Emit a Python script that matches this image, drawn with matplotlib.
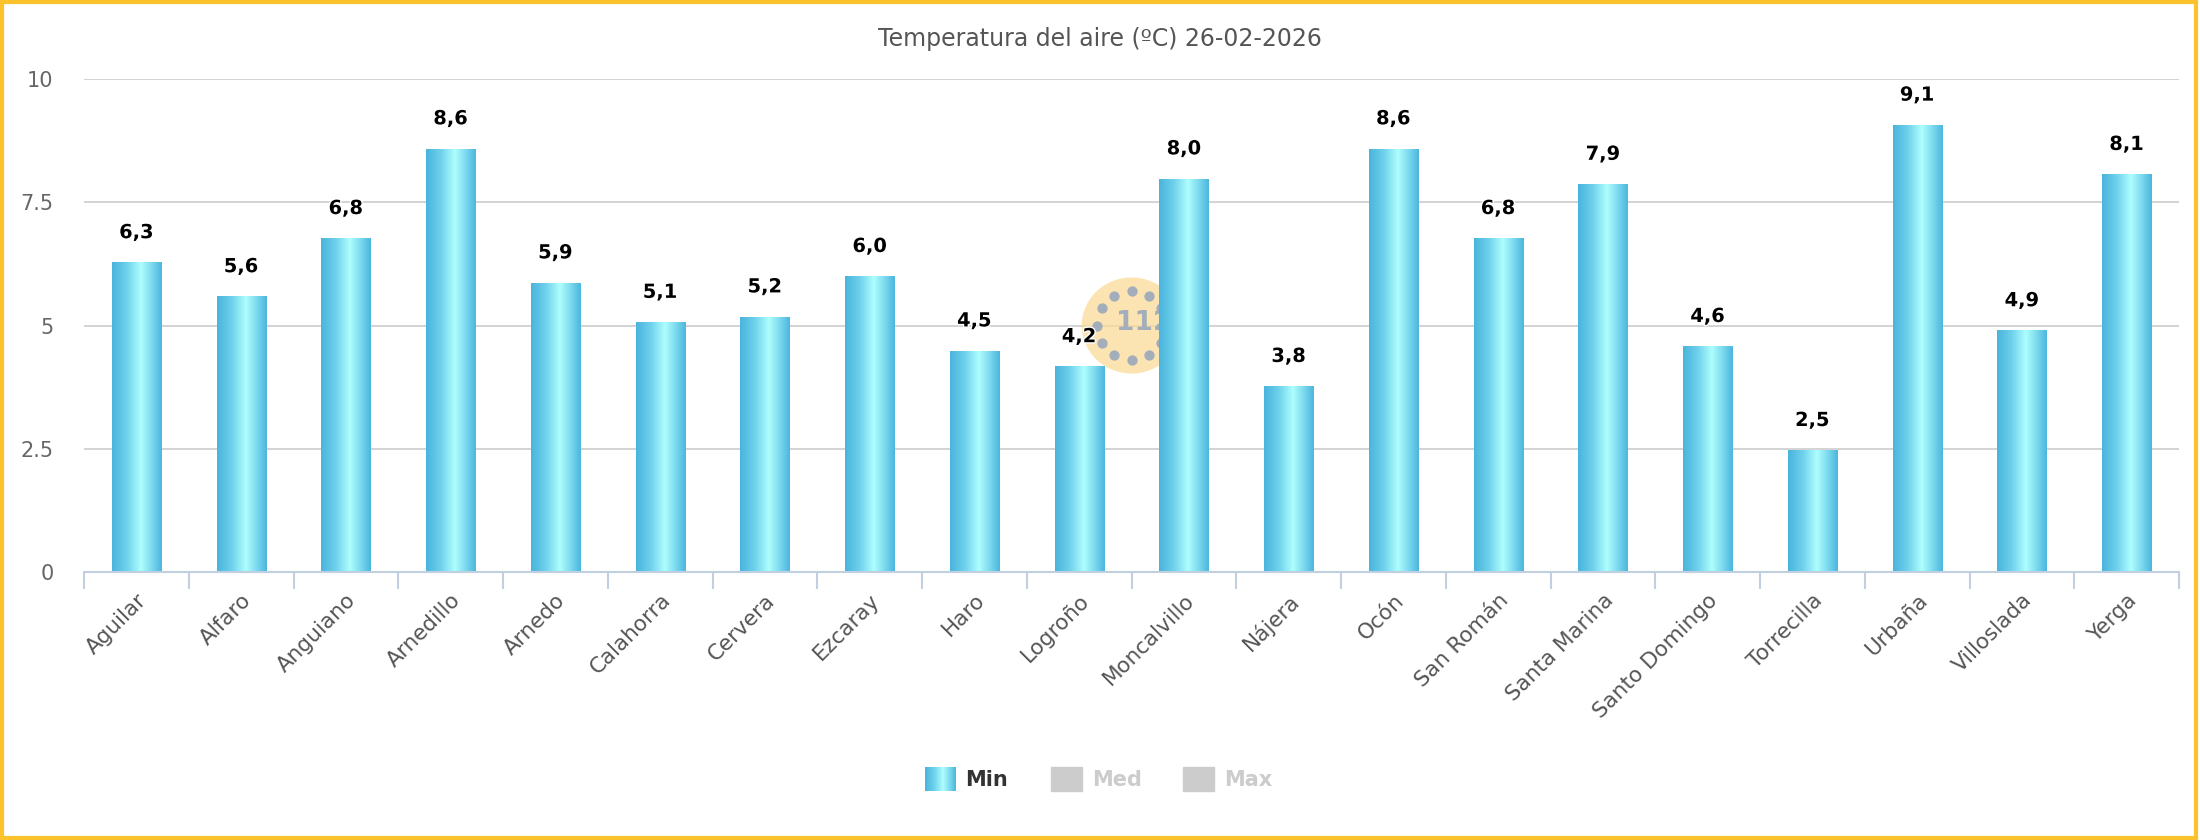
import numpy as np
import matplotlib
matplotlib.use('Agg')
import matplotlib.pyplot as plt
from matplotlib.colors import LinearSegmentedColormap
from matplotlib.patches import Ellipse, Rectangle
import matplotlib.patheffects as pe

estaciones = ['Aguilar', 'Alfaro', 'Anguiano', 'Arnedillo', 'Arnedo', 'Calahorra', 'Cervera',
              'Ezcaray', 'Haro', 'Logroño', 'Moncalvillo', 'Nájera', 'Ocón', 'San Román',
              'Santa Marina', 'Santo Domingo', 'Torrecilla', 'Urbaña', 'Villoslada', 'Yerga']
t_min = [6.27, 5.58, 6.76, 8.58, 5.86, 5.06, 5.17, 5.99, 4.48, 4.16,
         7.97, 3.76, 8.58, 6.76, 7.86, 4.57, 2.46, 9.06, 4.89, 8.06]
y_ticks = [0, 2.5, 5, 7.5, 10]
y_tick_labels = ['0', '2.5', '5', '7.5', '10']
series = ['Min', 'Med', 'Max']

cmap = LinearSegmentedColormap.from_list(
    'bar', [(0, '#4AB4DC'), (0.3, '#6FD2EC'), (0.58, '#AEFEFE'), (0.8, '#7BD9EE'), (1, '#4BB6DD')])
grad = np.linspace(0, 1, 256).reshape(1, -1)

fig = plt.figure(figsize=(22, 8.4), dpi=100)
ax = fig.add_axes([84 / 2200, 1 - 572 / 840, (2179 - 84) / 2200, (572 - 79) / 840])

# marca de agua 112 (detras de las barras)
ax.add_patch(Ellipse((9.5, 5.0), 0.95, 1.95, color='#FCDC98', alpha=0.75, zorder=1, lw=0))
ang = np.linspace(0, 2 * np.pi, 13)[:-1]
ax.scatter(9.5 + 0.33 * np.cos(ang), 5.0 + 0.7 * np.sin(ang), s=55, color='#A3AEBA', zorder=1.1, lw=0)
ax.text(9.62, 5.05, '112', fontsize=19, fontweight='bold', color='#A3AEBA', ha='center', va='center', zorder=1.1)

w = 0.47
for i, v in enumerate(t_min):
    ax.imshow(grad, extent=[i - w / 2, i + w / 2, 0, v], aspect='auto', cmap=cmap, zorder=2,
              interpolation='bilinear')
    ax.text(i, v + 0.42, '{:.1f}'.format(v).replace('.', ','), ha='center', va='bottom',
            fontsize=14, fontweight='bold', color='black', zorder=3,
            path_effects=[pe.withStroke(linewidth=2, foreground='white')])

ax.set_xlim(-0.5, len(estaciones) - 0.5)
ax.set_ylim(0, 10)
ax.set_yticks(y_ticks)
ax.set_yticklabels(y_tick_labels, fontsize=15, color='#666666')
ax.tick_params(axis='y', length=0, pad=22)
for y in y_ticks[1:]:
    ax.axhline(y, color='#D3D3D3', lw=1.4, zorder=0)

ax.set_xticks(range(len(estaciones)))
ax.set_xticklabels(estaciones, rotation=45, ha='right', rotation_mode='anchor',
                   fontsize=15.5, color='#555555')
ax.tick_params(axis='x', length=0, pad=13)
ax.set_xticks(np.arange(-0.5, len(estaciones)), minor=True)
ax.tick_params(axis='x', which='minor', length=12, color='#C0D0E0', width=1.5)
for s in ['top', 'right', 'left']:
    ax.spines[s].set_visible(False)
ax.spines['bottom'].set_color('#C0D0E0')
ax.spines['bottom'].set_linewidth(1.5)

fig.text(0.5, 1 - 39 / 840, 'Temperatura del aire (ºC) 26-02-2026', ha='center', va='center',
         fontsize=17, color='#555555')

# leyenda
sw = fig.add_axes([925 / 2200, 1 - 791 / 840, 31 / 2200, 24 / 840])
sw.imshow(grad, aspect='auto', cmap=cmap, extent=[0, 1, 0, 1])
sw.axis('off')
fig.text(965 / 2200, 1 - 780 / 840, series[0], fontsize=15, fontweight='bold', color='#333333', va='center')
for x0, name in [(1051, series[1]), (1183, series[2])]:
    fig.patches.append(Rectangle((x0 / 2200, 1 - 791 / 840), 31 / 2200, 24 / 840,
                                 transform=fig.transFigure, color='#CCCCCC'))
    fig.text((x0 + 41) / 2200, 1 - 780 / 840, name, fontsize=15, fontweight='bold', color='#CCCCCC', va='center')

# borde
fig.patches.append(Rectangle((0.001, 0.002), 0.997, 0.996, transform=fig.transFigure,
                             fill=False, edgecolor='#FBC22C', lw=3))
fig.savefig('out.png', dpi=100)
